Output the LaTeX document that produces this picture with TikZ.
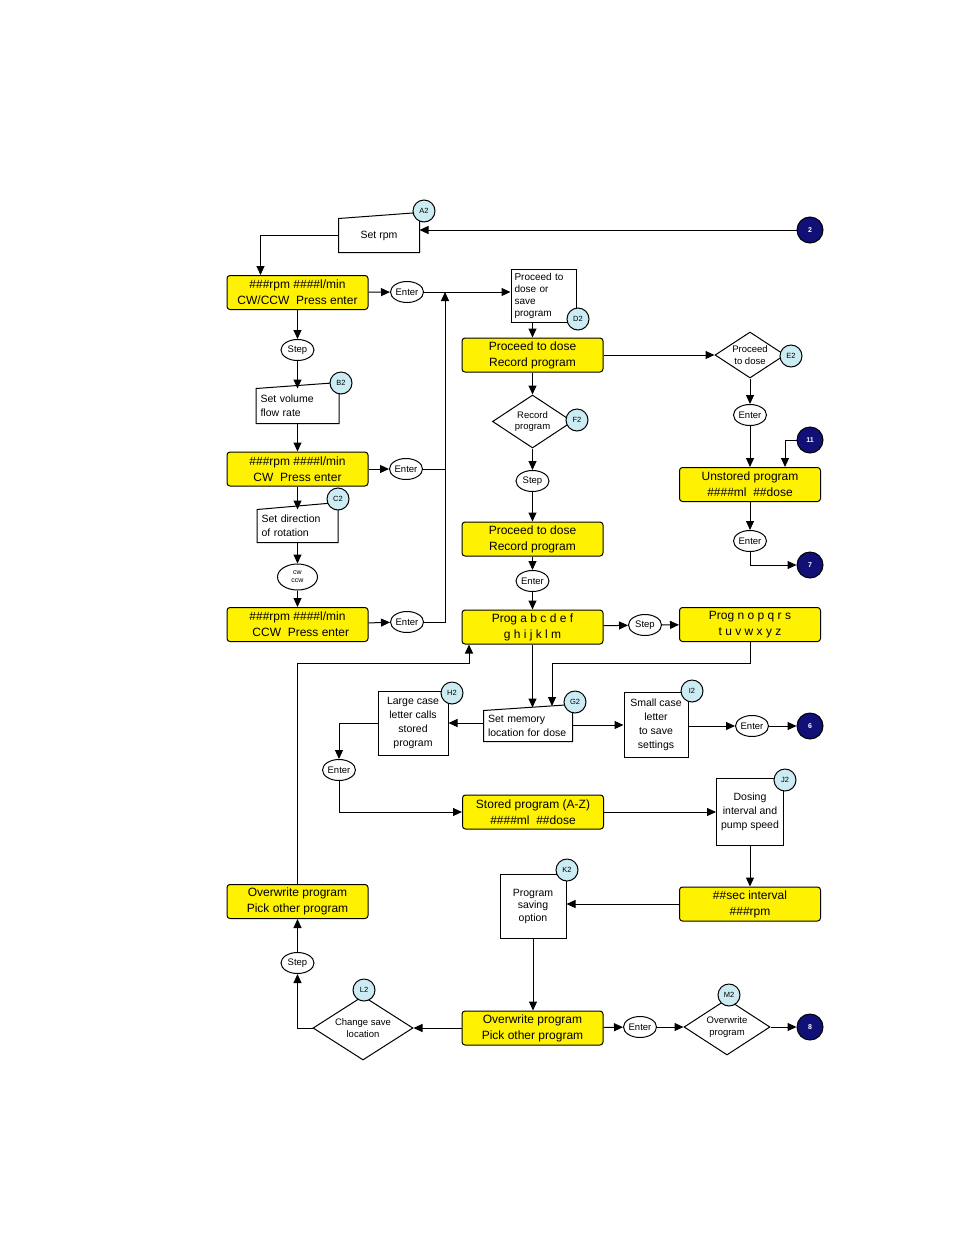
\documentclass[tikz,border=0pt]{standalone}
\usepackage{fontspec}
\setmainfont{Liberation Sans}
\usepackage{tikz}
\usetikzlibrary{arrows.meta, shapes.geometric}

\definecolor{tagblue}{RGB}{204,236,244}
\definecolor{linkblue}{RGB}{16,16,118}

\begin{document}
\begin{tikzpicture}[x=1pt, y=-1pt, line width=1pt,
	arr/.style={-{Triangle[length=9pt,width=8pt]}},
	screen/.style={rectangle, rounded corners=3pt, draw, fill=yellow, minimum width=141pt, minimum height=34pt, align=center, inner sep=0pt, font=\fontsize{12}{16}\selectfont},
	box/.style={rectangle, draw, fill=white, align=center, inner sep=2pt, font=\fontsize{10.5}{14}\selectfont},
	manual/.style={box, draw=none, fill=none},
	key/.style={ellipse, draw, fill=white, minimum width=33pt, minimum height=21pt, inner sep=0pt, font=\fontsize{9.5}{10}\selectfont},
	decide/.style={diamond, draw, fill=white, aspect=1.5, inner sep=0pt, align=center, font=\fontsize{9.5}{11.5}\selectfont},
	tag/.style={circle, draw, fill=tagblue, minimum size=22pt, inner sep=0pt, font=\fontsize{7.5}{7.5}\selectfont},
	link/.style={circle, draw, fill=linkblue, text=white, minimum size=26pt, inner sep=0pt, font=\bfseries\fontsize{7}{7}\selectfont}]
			\useasboundingbox (0,0) rectangle (954,1235);
			
			% Screens
			\node[screen] (rpm1) at (297.5,292.5) {\#\#\#rpm \#\#\#\#l/min\\CW/CCW\ \ Press enter};
			\node[screen] (rpm2) at (297.5,469) {\#\#\#rpm \#\#\#\#l/min\\CW\ \ Press enter};
			\node[screen] (rpm3) at (297.5,624.5) {\#\#\#rpm \#\#\#\#l/min\\\ \ CCW\ \ Press enter};
			\node[screen] (dose1) at (532.5,355) {Proceed to dose\\Record program};
			\node[screen] (dose2) at (532.5,539) {Proceed to dose\\Record program};
			\node[screen] (progA) at (532.5,627) {Prog a b c d e f\\g h i j k l m};
			\node[screen] (progN) at (750,624.5) {Prog n o p q r s\\t u v w x y z};
			\node[screen] (unstored) at (750,484.5) {Unstored program\\\#\#\#\#ml\ \ \#\#dose};
			\node[screen] (stored) at (533,812) {Stored program (A-Z)\\\#\#\#\#ml\ \ \#\#dose};
			\node[screen] (interval) at (750,904) {\#\#sec interval\\\#\#\#rpm};
			\node[screen] (over1) at (297.5,901.5) {Overwrite program\\Pick other program};
			\node[screen] (over2) at (532.5,1028) {Overwrite program\\Pick other program};
			
			% Input boxes
			\node[manual, minimum width=80pt, minimum height=33pt] (setrpm) at (379,235.5) {Set rpm};
			\draw (setrpm.south west) -- (setrpm.south east) -- ([yshift=6pt]setrpm.north east) -- (setrpm.north west) -- cycle;
			\node[manual, minimum width=82pt, minimum height=34pt, text width=74pt, align=left] (volume) at (297.5,406) {Set volume\\flow rate};
			\draw (volume.south west) -- (volume.south east) -- ([yshift=6pt]volume.north east) -- (volume.north west) -- cycle;
			\node[manual, minimum width=80pt, minimum height=32pt, text width=72pt, align=left] (direction) at (297.5,526) {Set direction\\of rotation};
			\draw (direction.south west) -- (direction.south east) -- ([yshift=7pt]direction.north east) -- (direction.north west) -- cycle;
			\node[manual, minimum width=88pt, minimum height=30pt, text width=80pt, align=left] (memory) at (528,726) {Set memory\\location for dose};
			\draw (memory.south west) -- (memory.south east) -- ([yshift=6pt]memory.north east) -- (memory.north west) -- cycle;
			
			% Plain boxes
			\node[box, minimum width=65pt, minimum height=53pt, text width=58pt, align=left, font=\fontsize{10}{12}\selectfont] (proceed) at (543.5,295.5) {Proceed to\\dose or\\save\\program};
			\node[box, minimum width=70pt, minimum height=64pt] (large) at (413,723) {Large case\\letter calls\\stored\\program};
			\node[box, minimum width=64pt, minimum height=65pt] (small) at (656,725) {Small case\\letter\\to save\\settings};
			\node[box, minimum width=67pt, minimum height=67pt] (dosing) at (750,812) {Dosing\\interval and\\pump speed};
			\node[box, minimum width=66pt, minimum height=64pt, font=\fontsize{10.5}{12.5}\selectfont] (saving) at (533,906) {Program\\saving\\option};
			
			% Decisions
			\node[decide, minimum width=70pt, minimum height=46pt] (todose) at (750,355) {Proceed\\to dose};
			\node[decide, minimum width=80pt, minimum height=53pt] (record) at (532.5,421.5) {Record\\program};
			\node[decide, minimum width=100pt, minimum height=64pt] (change) at (363,1028) {Change save\\location};
			\node[decide, minimum width=86pt, minimum height=56pt] (overw) at (727,1027) {Overwrite\\program};
			
			% Keys
			\node[key] (enter1) at (407,292) {Enter};
			\node[key] (step1) at (297.5,350) {Step};
			\node[key] (enter2) at (406,469) {Enter};
			\node[key, minimum width=40pt, minimum height=26pt, align=center, font=\fontsize{7}{8}\selectfont] (cwccw) at (297.5,577) {cw\\ccw};
			\node[key] (enter3) at (407,622) {Enter};
			\node[key] (step2) at (532.5,481) {Step};
			\node[key] (enter4) at (532.5,581) {Enter};
			\node[key] (enter5) at (750,415) {Enter};
			\node[key] (enter6) at (750,541) {Enter};
			\node[key] (step3) at (645,625) {Step};
			\node[key] (enter7) at (339,770) {Enter};
			\node[key] (enter8) at (752,726) {Enter};
			\node[key] (step4) at (297.5,963) {Step};
			\node[key] (enter9) at (640,1027) {Enter};
			
			% Off-page links
			\node[link] (to2) at (810,230) {2};
			\node[link] (to11) at (810,440) {11};
			\node[link] (to7) at (810,565) {7};
			\node[link] (to6) at (810,726) {6};
			\node[link] (to8) at (810,1027) {8};
			
			% Edges
			\coordinate (join) at (445,292);
			\coordinate (memin) at (552,706);
			\coordinate (back) at (469,663);
			\draw[arr] (to2) -- (to2 -| setrpm.east);
			\draw[arr] (setrpm.west) -| ([xshift=34pt]rpm1.north west);
			\draw[arr] (rpm1) -- (enter1);
			\draw[arr] (enter1) -- (enter1 -| proceed.west);
			\draw[arr] (enter3) -- (enter3 -| join) -- (join);
			\draw (enter2) -- (enter2 -| join);
			\draw[arr] (rpm1) -- (step1);
			\draw[arr] (step1) -- (volume);
			\draw[arr] (volume) -- (rpm2);
			\draw[arr] (rpm2) -- (direction);
			\draw[arr] (direction) -- (cwccw);
			\draw[arr] (cwccw) -- (rpm3);
			\draw[arr] (rpm2) -- (enter2);
			\draw[arr] (rpm3) -- (enter3);
			
			\draw[arr] (proceed.south -| dose1) -- (dose1);
			\draw[arr] (dose1) -- (record);
			\draw[arr] (record) -- (step2);
			\draw[arr] (step2) -- (dose2);
			\draw[arr] (dose2) -- (enter4);
			\draw[arr] (enter4) -- (progA);
			
			\draw[arr] (dose1) -- (todose);
			\draw[arr] (todose) -- (enter5);
			\draw[arr] (enter5) -- (unstored);
			\draw[arr] (to11) -| ([xshift=35pt]unstored.north);
			\draw[arr] (unstored) -- (enter6);
			\draw[arr] (enter6) |- (to7);
			\draw[arr] (progA) -- (step3);
			\draw[arr] (step3) -- (progN);
			
			\draw[arr] (progN.south) -- ++(0,21) -| (memin);
			\draw[arr] (progA.south) -- ([yshift=3pt]progA.south |- memory.north);
			\draw[arr] (memory.west |- large) -- (large.east);
			\draw[arr] (memory.east |- small) -- (small.west);
			\draw[arr] (small.east |- enter8) -- (enter8);
			\draw[arr] (enter8) -- (to6);
			\draw[arr] (large.west) -| (enter7);
			\draw[arr] (enter7) |- (stored.west);
			\draw[arr] (stored) -- (dosing);
			\draw[arr] (dosing) -- (interval);
			\draw[arr] (interval.west) -- (interval.west -| saving.east);
			\draw[arr] (saving) -- (saving |- over2.north);
			\draw[arr] (over2) -- (change);
			\draw[arr] (over2) -- (enter9);
			\draw[arr] (enter9) -- (overw);
			\draw[arr] (overw) -- (to8);
			\draw[arr] (change.west) -| (step4);
			\draw[arr] (step4) -- (over1);
			\draw[arr] (over1.north) |- (back) -- (back |- progA.south);
			
			% Tags
			\node[tag] (a2) at (424,211) {A2};
			\node[tag] (b2) at (341,383) {B2};
			\node[tag] (c2) at (338,499) {C2};
			\node[tag] (d2) at (578,319) {D2};
			\node[tag] (e2) at (791,356) {E2};
			\node[tag] (f2) at (577,420) {F2};
			\node[tag] (g2) at (575,702) {G2};
			\node[tag] (h2) at (452,693) {H2};
			\node[tag] (i2) at (692,691) {I2};
			\node[tag] (j2) at (785,780) {J2};
			\node[tag] (k2) at (567,870) {K2};
			\node[tag] (l2) at (364,990) {L2};
			\node[tag] (m2) at (729,995) {M2};
		\end{tikzpicture}
\end{document}
